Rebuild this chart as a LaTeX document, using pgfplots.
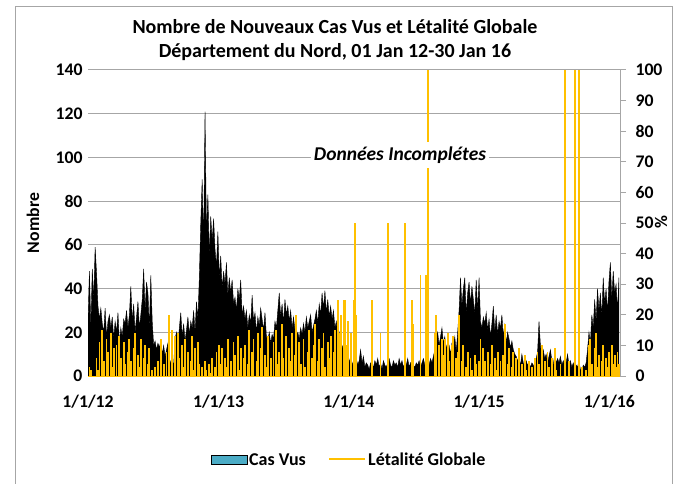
\documentclass[border=0pt]{standalone}
\usepackage{fontspec}
\setmainfont{Carlito}
\usepackage{pgfplots}
\usepackage{pgfplotstable}
\pgfplotsset{compat=1.18}
\definecolor{gridgray}{HTML}{A6A6A6}
\definecolor{leth}{HTML}{FFC000}
\definecolor{casteal}{HTML}{4BACC6}

\pgfplotstableread[row sep=\\]{
d c l\\
0 25 0\\ 4 48 3\\ 8 22 2\\ 12 49 0\\ 16 35 0\\ 20 59 0\\ 24 47 6\\ 28 32 2\\ 32 26 11\\ 36 31 0\\
40 24 15\\ 44 20 5\\ 48 31 0\\ 52 18 12\\ 56 25 8\\ 60 28 0\\ 64 22 14\\ 68 27 3\\ 72 17 9\\ 76 25 0\\
80 20 10\\ 84 29 0\\ 88 15 13\\ 92 22 6\\ 96 18 0\\ 100 26 11\\ 104 24 4\\ 108 30 0\\ 112 22 8\\ 116 28 12\\
120 41 5\\ 124 25 0\\ 128 33 9\\ 132 20 14\\ 136 27 0\\ 140 34 7\\ 144 22 3\\ 148 28 12\\ 152 35 0\\ 156 49 6\\
160 30 10\\ 164 43 0\\ 168 38 4\\ 172 22 9\\ 176 46 0\\ 180 25 2\\ 184 14 0\\ 188 16 3\\ 192 12 0\\ 196 15 5\\
200 13 0\\ 204 16 12\\ 208 10 0\\ 212 14 4\\ 216 9 0\\ 220 12 8\\ 224 15 0\\ 228 8 20\\ 232 6 0\\ 236 7 15\\
240 5 0\\ 244 17 13\\ 248 20 0\\ 252 14 14\\ 256 22 6\\ 260 29 0\\ 264 18 10\\ 268 24 3\\ 272 16 12\\ 276 21 0\\
280 27 8\\ 284 19 0\\ 288 25 5\\ 292 22 13\\ 296 30 2\\ 300 20 9\\ 304 34 0\\ 308 26 11\\ 312 45 4\\ 316 70 0\\
320 90 3\\ 324 60 0\\ 328 121 5\\ 332 65 2\\ 336 83 0\\ 340 55 4\\ 344 73 1\\ 348 62 6\\ 352 72 0\\ 356 58 3\\
360 50 8\\ 364 66 0\\ 368 45 10\\ 372 55 4\\ 376 40 9\\ 380 48 0\\ 384 42 6\\ 388 52 3\\ 392 37 12\\ 396 45 0\\
400 38 5\\ 404 44 0\\ 408 33 11\\ 412 36 7\\ 416 30 0\\ 420 40 13\\ 424 35 2\\ 428 44 9\\ 432 28 0\\ 436 32 6\\
440 26 10\\ 444 30 0\\ 448 22 4\\ 452 28 15\\ 456 24 0\\ 460 37 8\\ 464 25 12\\ 468 29 0\\ 472 20 5\\ 476 27 14\\
480 23 0\\ 484 31 9\\ 488 26 16\\ 492 21 0\\ 496 29 7\\ 500 18 3\\ 504 16 13\\ 508 20 0\\ 512 15 6\\ 516 19 0\\
520 17 11\\ 524 25 0\\ 528 22 15\\ 532 30 4\\ 536 38 8\\ 540 27 0\\ 544 33 17\\ 548 24 6\\ 552 35 0\\ 556 28 13\\
560 32 0\\ 564 25 9\\ 568 30 5\\ 572 22 14\\ 576 27 0\\ 580 21 7\\ 584 18 20\\ 588 20 0\\ 592 17 11\\ 596 22 4\\
600 19 0\\ 604 24 12\\ 608 20 3\\ 612 27 0\\ 616 22 8\\ 620 25 15\\ 624 28 0\\ 628 20 6\\ 632 23 10\\ 636 26 17\\
640 30 0\\ 644 24 5\\ 648 33 12\\ 652 28 0\\ 656 38 9\\ 660 31 14\\ 664 39 3\\ 668 29 0\\ 672 35 11\\ 676 27 6\\
680 32 13\\ 684 26 0\\ 688 30 8\\ 692 22 15\\ 696 25 0\\ 700 18 25\\ 704 20 14\\ 708 15 20\\ 712 14 0\\ 716 12 25\\
720 10 25\\ 724 8 10\\ 728 11 18\\ 732 6 0\\ 736 9 14\\ 740 5 0\\ 744 7 25\\ 748 6 50\\ 752 8 20\\ 756 5 0\\
760 7 0\\ 764 12 0\\ 768 6 0\\ 772 9 0\\ 776 4 0\\ 780 6 0\\ 784 5 0\\ 788 3 0\\ 792 6 0\\ 796 5 25\\
800 4 0\\ 804 7 0\\ 808 5 0\\ 812 8 0\\ 816 4 0\\ 820 6 14\\ 824 3 0\\ 828 7 0\\ 832 5 0\\ 836 4 0\\
840 6 50\\ 844 8 0\\ 848 5 0\\ 852 4 0\\ 856 7 0\\ 860 5 0\\ 864 6 0\\ 868 4 0\\ 872 8 0\\ 876 5 0\\
880 7 0\\ 884 4 0\\ 888 6 50\\ 892 5 0\\ 896 8 0\\ 900 4 0\\ 904 6 0\\ 908 7 25\\ 912 5 17\\ 916 4 0\\
920 6 0\\ 924 5 0\\ 928 7 0\\ 932 4 33\\ 936 6 0\\ 940 8 0\\ 944 5 0\\ 948 7 33\\ 952 6 100\\ 956 5 0\\
960 8 0\\ 964 6 0\\ 968 9 0\\ 972 12 14\\ 976 17 20\\ 980 20 0\\ 984 14 10\\ 988 18 0\\ 992 22 12\\ 996 15 7\\
1000 18 12\\ 1004 12 0\\ 1008 16 14\\ 1012 14 5\\ 1016 10 0\\ 1020 15 10\\ 1024 13 13\\ 1028 18 0\\ 1032 11 6\\ 1036 20 8\\
1040 30 20\\ 1044 45 0\\ 1048 32 5\\ 1052 40 10\\ 1056 45 0\\ 1060 28 3\\ 1064 38 8\\ 1068 43 0\\ 1072 33 6\\ 1076 41 2\\
1080 35 0\\ 1084 28 7\\ 1088 44 4\\ 1092 30 0\\ 1096 45 5\\ 1100 25 12\\ 1104 22 0\\ 1108 27 9\\ 1112 24 5\\ 1116 29 0\\
1120 21 8\\ 1124 26 0\\ 1128 18 4\\ 1132 24 10\\ 1136 32 0\\ 1140 20 6\\ 1144 28 2\\ 1148 19 8\\ 1152 25 0\\ 1156 22 5\\
1160 28 0\\ 1164 18 7\\ 1168 24 17\\ 1172 15 0\\ 1176 20 4\\ 1180 17 9\\ 1184 13 0\\ 1188 16 3\\ 1192 12 8\\ 1196 10 0\\
1200 9 6\\ 1204 7 0\\ 1208 8 9\\ 1212 5 0\\ 1216 10 4\\ 1220 6 0\\ 1224 4 7\\ 1228 7 2\\ 1232 5 0\\ 1236 6 5\\
1240 4 0\\ 1244 6 3\\ 1248 5 0\\ 1252 3 6\\ 1256 8 0\\ 1260 11 8\\ 1264 25 4\\ 1268 14 0\\ 1272 9 10\\ 1276 12 0\\
1280 8 5\\ 1284 10 0\\ 1288 6 8\\ 1292 9 3\\ 1296 12 0\\ 1300 7 6\\ 1304 5 0\\ 1308 10 9\\ 1312 6 2\\ 1316 8 0\\
1320 6 0\\ 1324 9 4\\ 1328 5 0\\ 1332 7 0\\ 1336 4 100\\ 1340 6 0\\ 1344 10 0\\ 1348 5 5\\ 1352 7 0\\ 1356 4 0\\
1360 6 0\\ 1364 3 100\\ 1368 5 0\\ 1372 4 0\\ 1376 7 100\\ 1380 3 0\\ 1384 2 3\\ 1388 5 0\\ 1392 4 0\\ 1396 6 2\\
1400 12 0\\ 1404 20 10\\ 1408 15 12\\ 1412 28 4\\ 1416 22 0\\ 1420 35 9\\ 1424 25 14\\ 1428 40 3\\ 1432 30 7\\ 1436 38 0\\
1440 27 5\\ 1444 45 10\\ 1448 33 0\\ 1452 40 6\\ 1456 29 3\\ 1460 43 8\\ 1464 52 0\\ 1468 35 10\\ 1472 48 4\\ 1476 38 7\\
1480 42 3\\ 1484 30 8\\ 1488 45 4\\
}\data

\begin{document}
\begin{tikzpicture}[x=1pt,y=1pt]
\path[use as bounding box] (0,0) rectangle (675,483);
\draw[gridgray, line width=0.8pt] (15,-10) -- (15,477) -- (672,477) -- (672,-10);
\begin{axis}[
  at={(88pt,107pt)}, anchor=south west, scale only axis,
  width=532pt, height=306pt,
  xmin=0, xmax=1491, ymin=0, ymax=140,
  axis line style={draw=none},
  ytick={0,20,...,140},
  ymajorgrids, grid style={gridgray, line width=1pt},
  major tick length=0pt,
  xtick={0,366,731,1096,1461},
  xticklabels={1/1/12,1/1/13,1/1/14,1/1/15,1/1/16},
  tick label style={font=\fontsize{17.7}{18}\selectfont\bfseries},
  /pgf/number format/assume math mode=true,
  yticklabel style={xshift=-2pt},
  xticklabel style={yshift=-16pt},
  clip=true,
]
\addplot[fill=black, draw=black, line width=0.4pt] table[x=d,y=c]{\data} \closedcycle;
\draw[gridgray, line width=1pt] (axis cs:0,0) -- (axis cs:1491,0);
\end{axis}
\begin{axis}[
  at={(88pt,107pt)}, anchor=south west, scale only axis,
  width=532pt, height=306pt,
  xmin=0, xmax=1491, ymin=0, ymax=100,
  axis x line=none,
  axis y line*=right,
  y axis line style={gridgray, line width=1pt, -},
  ytick={0,10,...,100},
  ytick pos=right, tick align=outside,
  major tick length=6pt,
  tick style={gridgray, line width=1pt},
  tick label style={font=\fontsize{17.7}{18}\selectfont\bfseries},
  /pgf/number format/assume math mode=true,
  yticklabel style={xshift=6pt},
  clip=true,
]
\addplot[leth, ycomb, line width=1.8pt] table[x=d,y=l]{\data};
\addplot[leth, line width=1pt] coordinates {(0,0) (1491,0)};
\end{axis}
\node[font=\fontsize{20}{24}\selectfont\bfseries] at (335,456) {Nombre de Nouveaux Cas Vus et Létalité Globale};
\node[font=\fontsize{20}{24}\selectfont\bfseries] at (335,431) {Département du Nord, 01 Jan 12-30 Jan 16};
\node[rotate=90, font=\fontsize{17.7}{18}\selectfont\bfseries] at (33,260) {Nombre};
\node[rotate=90, font=\fontsize{17.7}{18}\selectfont\bfseries] at (661,261) {\%};
\node[fill=white, inner xsep=3pt, inner ysep=5pt, font=\fontsize{19.5}{22}\selectfont\bfseries\itshape] at (400,328) {Données Incomplétes};
\draw[black, fill=casteal, line width=0.8pt] (211,19) rectangle (247,28);
\node[anchor=west, inner sep=0pt, font=\fontsize{18}{20}\selectfont\bfseries] at (249,23.5) {Cas Vus};
\draw[leth, line width=1.5pt] (329,24) -- (365,24);
\node[anchor=west, inner sep=0pt, font=\fontsize{18}{20}\selectfont\bfseries] at (368,23.5) {Létalité Globale};
\end{tikzpicture}
\end{document}
